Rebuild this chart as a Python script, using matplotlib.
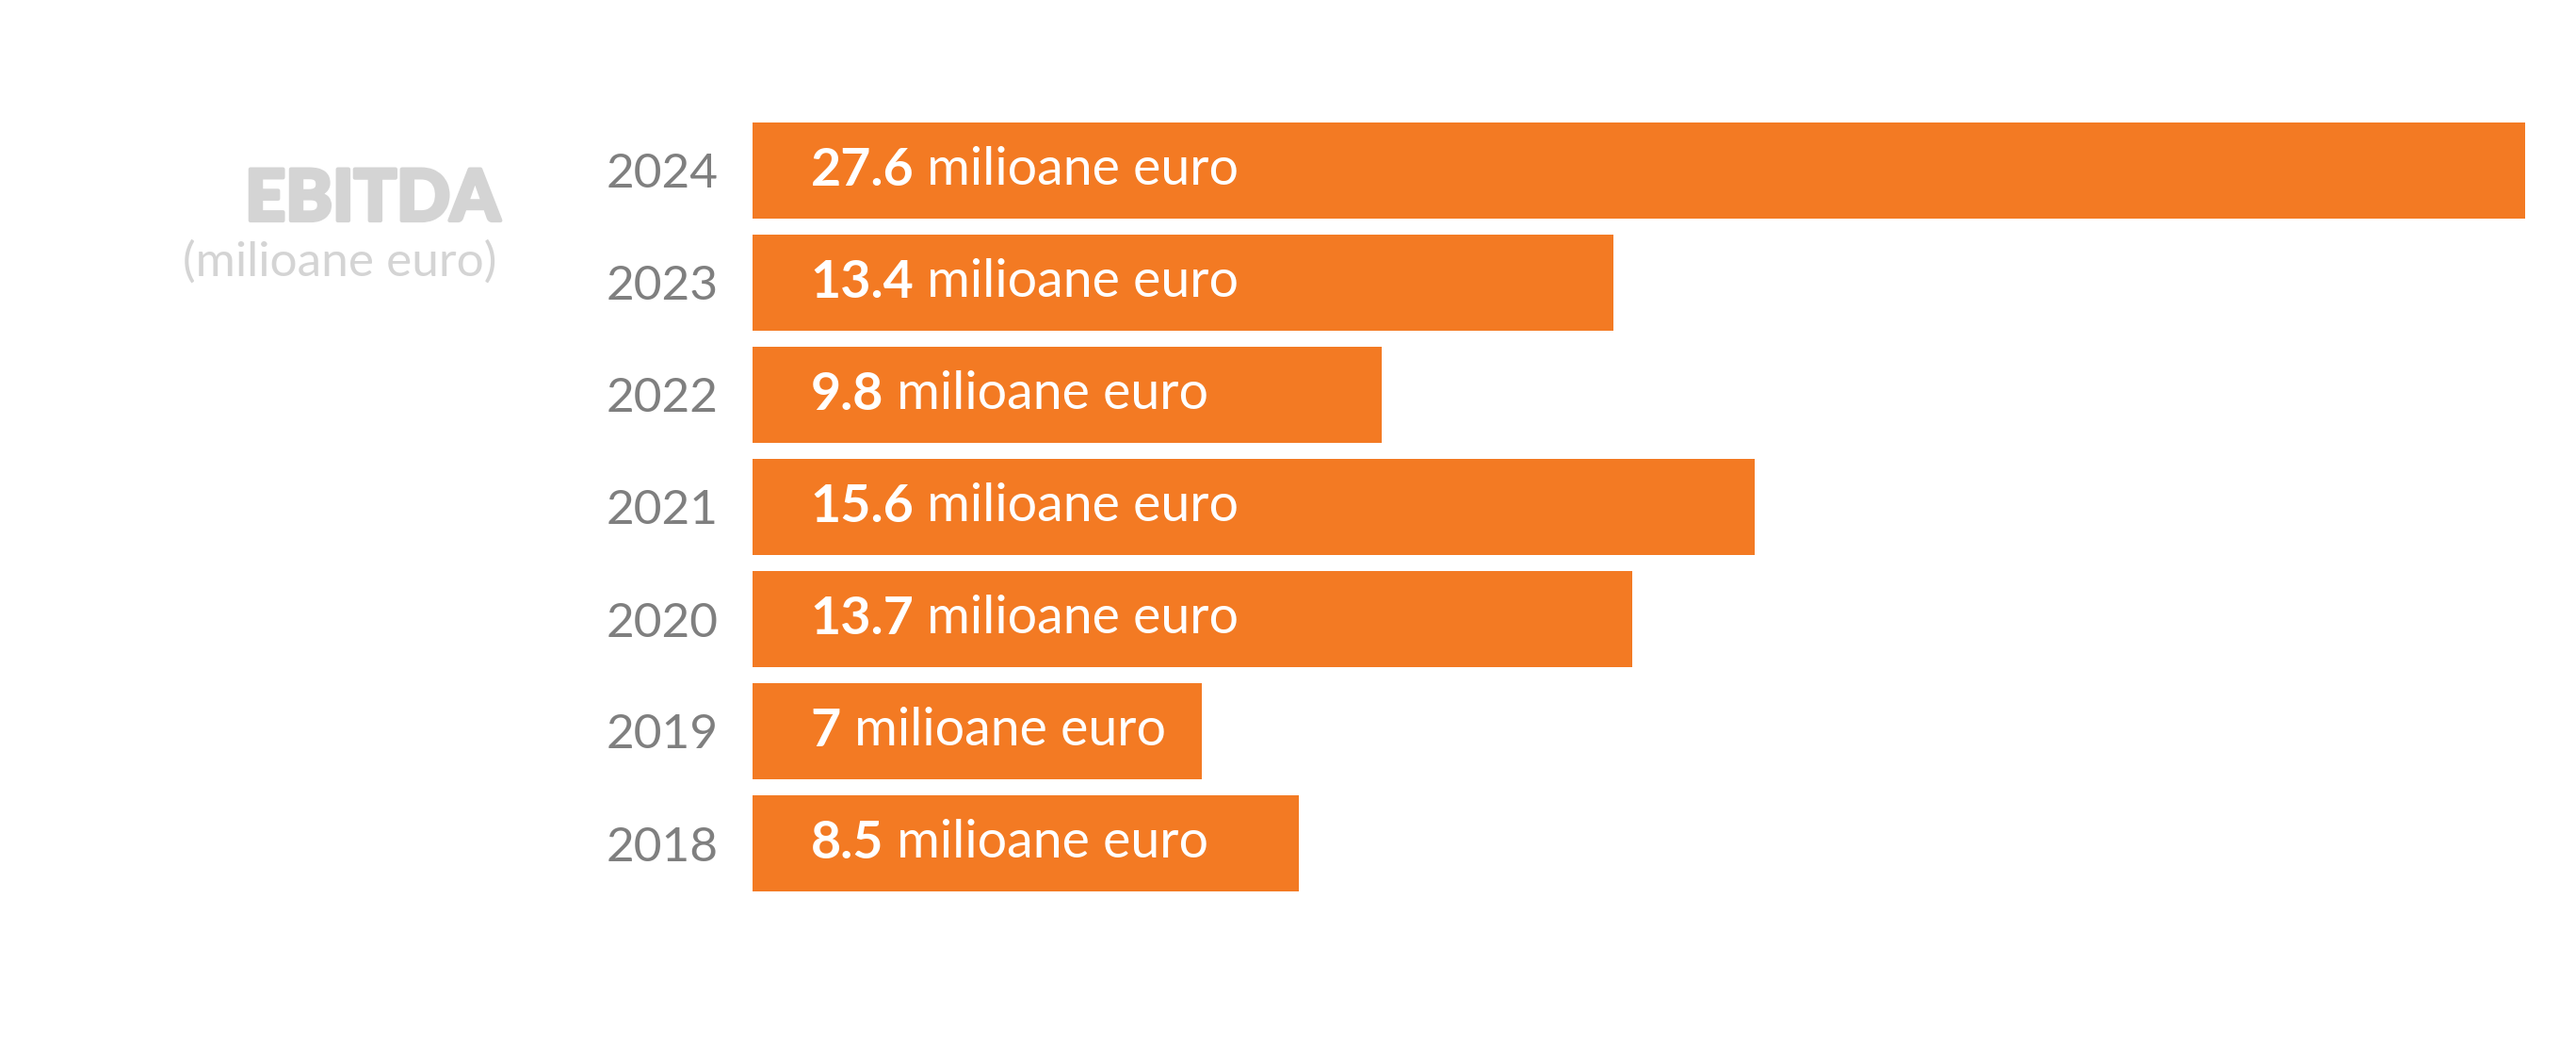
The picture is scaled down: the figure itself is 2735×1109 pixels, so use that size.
import matplotlib.pyplot as plt
import matplotlib.patheffects as pe

years = ['2024', '2023', '2022', '2021', '2020', '2019', '2018']
ebitda = [27.6, 13.4, 9.8, 15.6, 13.7, 7, 8.5]
value_labels = ['27.6', '13.4', '9.8', '15.6', '13.7', '7', '8.5']

plt.rcParams['font.family'] = ['Lato', 'DejaVu Sans']

W, H = 2735, 1109
fig = plt.figure(figsize=(W / 100, H / 100), dpi=100)
ax = fig.add_axes([799 / W, 0, 1 - 799 / W, 1])

orange = '#F37A23'
pos = list(range(len(years)))
ax.barh(pos, ebitda, height=0.864, color=orange)

ax.set_xlim(0, (W - 799) / 68.2)
ax.set_ylim((H - 181) / 119, -181 / 119)

ax.set_yticks(pos)
ax.set_yticklabels(years, fontsize=37, color='#7F7F7F')
ax.tick_params(axis='y', length=0, pad=26)
ax.set_xticks([])
for s in ax.spines.values():
    s.set_visible(False)

# bold number + regular unit inside each bar
for i, (v, lab) in enumerate(zip(ebitda, value_labels)):
    t = ax.text(0.9, i, lab, fontsize=40, fontweight='bold', color='white',
                va='center', ha='left')
    ax.annotate(' milioane euro', xy=(1, 0), xycoords=t, fontsize=40,
                color='white', va='bottom', ha='left')

fig.text(531 / W, 1 - 234 / H, 'EBITDA', fontsize=54, fontweight='black',
         color='#D4D4D4', ha='right', va='baseline',
         path_effects=[pe.withStroke(linewidth=3, foreground='#D4D4D4')])
fig.text(527 / W, 1 - 293 / H, '(milioane euro)', fontsize=37,
         color='#D4D4D4', ha='right', va='baseline')

fig.savefig('out.png', dpi=100, facecolor='white')
